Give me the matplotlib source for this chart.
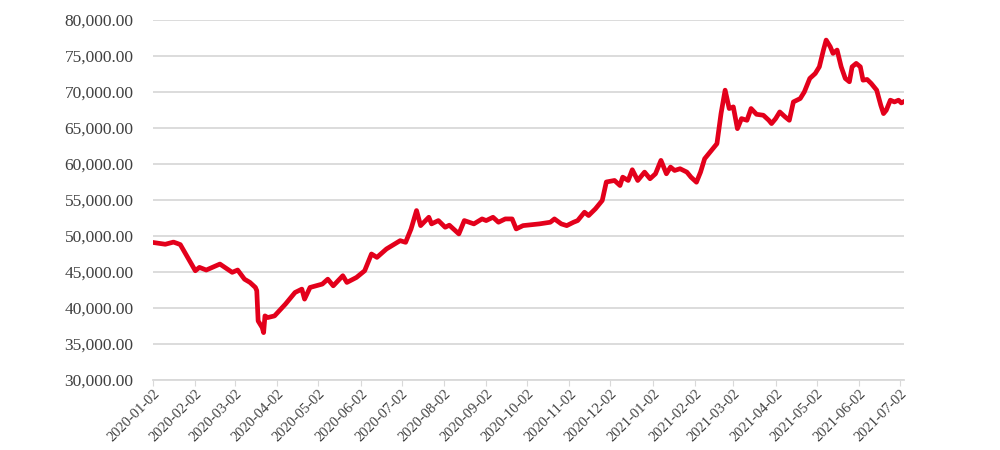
import pandas as pd
import matplotlib.pyplot as plt
import matplotlib.dates as mdates
from matplotlib.ticker import FuncFormatter

# values
dates = [
    "2020-01-02", "2020-01-11", "2020-01-17", "2020-01-20", "2020-01-22", "2020-02-02",
    "2020-02-05", "2020-02-10", "2020-02-20", "2020-02-29", "2020-03-04", "2020-03-09",
    "2020-03-13", "2020-03-17", "2020-03-18", "2020-03-19", "2020-03-22", "2020-03-23",
    "2020-03-24", "2020-03-26", "2020-03-31", "2020-04-08", "2020-04-15", "2020-04-20",
    "2020-04-22", "2020-04-26", "2020-05-05", "2020-05-09", "2020-05-13", "2020-05-20",
    "2020-05-23", "2020-05-30", "2020-06-05", "2020-06-10", "2020-06-14", "2020-06-21",
    "2020-07-01", "2020-07-05", "2020-07-09", "2020-07-13", "2020-07-16", "2020-07-22",
    "2020-07-24", "2020-07-29", "2020-08-03", "2020-08-06", "2020-08-13", "2020-08-17",
    "2020-08-24", "2020-08-30", "2020-09-02", "2020-09-07", "2020-09-11", "2020-09-16",
    "2020-09-21", "2020-09-24", "2020-09-29", "2020-10-11", "2020-10-19", "2020-10-22",
    "2020-10-27", "2020-10-31", "2020-11-05", "2020-11-08", "2020-11-13", "2020-11-16",
    "2020-11-21", "2020-11-26", "2020-11-29", "2020-12-05", "2020-12-09", "2020-12-11",
    "2020-12-15", "2020-12-18", "2020-12-22", "2020-12-27", "2020-12-31", "2021-01-04",
    "2021-01-08", "2021-01-12", "2021-01-15", "2021-01-18", "2021-01-22", "2021-01-27",
    "2021-01-30", "2021-02-03", "2021-02-06", "2021-02-09", "2021-02-14", "2021-02-18",
    "2021-02-21", "2021-02-24", "2021-02-27", "2021-03-02", "2021-03-05", "2021-03-08",
    "2021-03-12", "2021-03-15", "2021-03-19", "2021-03-24", "2021-03-28", "2021-03-30",
    "2021-04-02", "2021-04-05", "2021-04-09", "2021-04-12", "2021-04-15", "2021-04-20",
    "2021-04-23", "2021-04-27", "2021-05-01", "2021-05-04", "2021-05-07", "2021-05-09",
    "2021-05-12", "2021-05-14", "2021-05-17", "2021-05-20", "2021-05-23", "2021-05-26",
    "2021-05-28", "2021-05-31", "2021-06-03", "2021-06-05", "2021-06-08", "2021-06-11",
    "2021-06-15", "2021-06-18", "2021-06-20", "2021-06-22", "2021-06-25", "2021-06-28",
    "2021-07-01", "2021-07-03", "2021-07-06",
]
values = [
    49100, 48850, 49150, 48950, 48800, 45170,
    45640, 45270, 46100, 44950, 45270, 44000,
    43550, 42850, 42400, 38200, 37270, 36580,
    38900, 38670, 38900, 40540, 42150, 42620,
    41230, 42850, 43320, 44000, 43080, 44480,
    43550, 44240, 45170, 47500, 47030, 48200,
    49350, 49120, 50980, 53530, 51440, 52600,
    51680, 52140, 51210, 51500, 50290, 52140,
    51680, 52370, 52140, 52600, 51910, 52370,
    52370, 50980, 51440, 51680, 51910, 52370,
    51680, 51440, 51910, 52140, 53300, 52840,
    53770, 54930, 57500, 57710, 57010, 58170,
    57710, 59200, 57710, 58870, 57950, 58640,
    60500, 58640, 59570, 59100, 59340, 58870,
    58170, 57470, 58870, 60730, 61900, 62820,
    67000, 70250, 67700, 67930, 64910, 66300,
    66070, 67700, 66900, 66770, 66070, 65610,
    66300, 67230, 66530, 66070, 68620, 69090,
    70010, 71880, 72570, 73500, 75820, 77210,
    76280, 75360, 75820, 73500, 71880, 71420,
    73500, 73970, 73500, 71640, 71740, 71180,
    70250, 68160, 67000, 67460, 68860, 68620,
    68860, 68480, 68760,
]
tick_dates = pd.date_range("2020-01-01", "2021-07-01", freq="MS") + pd.Timedelta(days=1)

plt.rcParams["font.family"] = ["Liberation Serif", "DejaVu Serif"]

fig = plt.figure(figsize=(10, 4.5), dpi=100)
ax = fig.add_axes([0.153, 0.1556, 0.751, 0.8])

ax.plot(pd.to_datetime(dates), values, color="#e3001b", linewidth=3.4,
        solid_joinstyle="round", zorder=3)

ax.set_ylim(30000, 80000)
ax.set_yticks(range(30000, 80001, 5000))
ax.yaxis.set_major_formatter(FuncFormatter(lambda v, p: f"{v:,.2f}"))
ax.set_xlim(pd.Timestamp("2020-01-02"), pd.Timestamp("2021-07-05"))
ax.set_xticks(tick_dates)
ax.xaxis.set_major_formatter(mdates.DateFormatter("%Y-%m-%d"))

ax.grid(axis="y", color="#d9d9d9", linewidth=1.3)
ax.set_axisbelow(True)
for s in ["top", "right", "left"]:
    ax.spines[s].set_visible(False)
ax.spines["bottom"].set_color("#d9d9d9")
ax.spines["bottom"].set_linewidth(1.3)

ax.tick_params(axis="y", length=0, pad=14, labelsize=12.5, labelcolor="#404040")
ax.tick_params(axis="x", length=4, color="#d9d9d9", pad=1, labelsize=10.5,
               labelcolor="#404040")
plt.setp(ax.get_xticklabels(), rotation=45, ha="right", rotation_mode="anchor")

fig.savefig("out.png", dpi=100)
